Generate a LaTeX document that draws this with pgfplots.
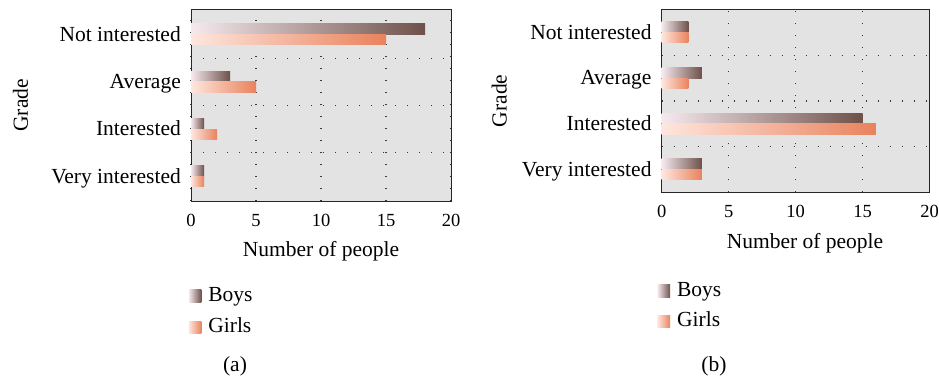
\documentclass[border=0pt]{standalone}
\usepackage{fontspec}
\setmainfont{Liberation Serif}
\usepackage{pgfplots}
\pgfplotsset{compat=1.18}
\definecolor{bg}{HTML}{E3E3E3}
\definecolor{boysL}{HTML}{F6E9EE}
\definecolor{boysD}{HTML}{6E5149}
\definecolor{girlsL}{HTML}{FEE6DE}
\definecolor{girlsD}{HTML}{E9825C}
\definecolor{gridc}{HTML}{3A3A3A}
\newcommand{\fs}{\fontsize{21.5}{25}\selectfont}
\pgfplotsset{
  chartstyle/.style={
    scale only axis,
    xbar,
    xmin=0, xmax=20,
    xtick={0,5,10,15,20},
    ytick={0,1,2,3},
    yticklabels={Very interested,Interested,Average,Not interested},
    major tick length=0pt,
    xmajorgrids=true,
    extra y ticks={0.5,1.5,2.5},
    extra y tick labels={},
    extra y tick style={grid=major, major tick length=0pt},
    grid style={gridc, line width=1.1pt, dash pattern=on 1.3pt off 10.7pt},
    axis background/.style={fill=bg},
    axis line style={line width=0.9pt, black!85},
    bar width=10.5pt,
    font=\fs,
    yticklabel style={font=\fs, anchor=base east, xshift=-10pt, yshift=-6.8pt, inner sep=0pt},
    /pgf/number format/assume math mode=true,
    xticklabel style={font=\fontsize{18.5}{22}\selectfont, anchor=base, yshift=-25pt, inner sep=0pt},
    legend image code/.code={\path[##1] (0pt,-6pt) rectangle (12.5pt,6.5pt);},
    legend style={draw=none, fill=none, inner sep=0pt, column sep=5pt,
      legend cell align=left, anchor=north west,
      font=\fs,
      nodes={inner sep=2pt, text height=14pt, text depth=4pt}},
    xlabel={Number of people},
    ylabel={Grade},
    xlabel style={anchor=base},
    ylabel style={anchor=base, rotate=0},
  },
  boys/.style={draw=none, left color=boysL, right color=boysD, bar shift=5.25pt},
  girls/.style={draw=none, left color=girlsL, right color=girlsD, bar shift=-5.25pt},
}
\begin{document}
\begin{tikzpicture}
\path[use as bounding box] (0pt,0pt) rectangle (939pt,-381pt);
% (a)
\begin{axis}[chartstyle,
  at={(191pt,-201pt)}, anchor=south west,
  width=260pt, height=191.3pt,
  ymin=-0.522, ymax=3.522,
  xlabel style={at={(axis description cs:0.5,-0.2875)}},
  ylabel style={at={(axis description cs:-0.627,0.5)}},
  legend style={at={(axis description cs:-0.009,-0.439)}, row sep=9.7pt},
]
% Boys
\addplot[boys] coordinates {(18,3)};
\addlegendentry{Boys}
% Girls
\addplot[girls] coordinates {(15,3)};
\addlegendentry{Girls}
\addplot[boys, forget plot] coordinates {(3,2)};
\addplot[boys, forget plot] coordinates {(1,1)};
\addplot[boys, forget plot] coordinates {(1,0)};
\addplot[girls, forget plot] coordinates {(5,2)};
\addplot[girls, forget plot] coordinates {(2,1)};
\addplot[girls, forget plot] coordinates {(1,0)};
\end{axis}
% (b)
\begin{axis}[chartstyle,
  at={(661.7pt,-192.3pt)}, anchor=south west,
  width=267.8pt, height=182.7pt,
  ymin=-0.5, ymax=3.5,
  xlabel style={at={(axis description cs:0.535,-0.308)}},
  ylabel style={at={(axis description cs:-0.579,0.5)}},
  legend style={at={(axis description cs:-0.016,-0.48)}, row sep=8.3pt},
]
% Boys
\addplot[boys] coordinates {(2,3)};
\addlegendentry{Boys}
% Girls
\addplot[girls] coordinates {(2,3)};
\addlegendentry{Girls}
\addplot[boys, forget plot] coordinates {(3,2)};
\addplot[boys, forget plot] coordinates {(15,1)};
\addplot[boys, forget plot] coordinates {(3,0)};
\addplot[girls, forget plot] coordinates {(2,2)};
\addplot[girls, forget plot] coordinates {(16,1)};
\addplot[girls, forget plot] coordinates {(3,0)};
\end{axis}
\node[anchor=base, font=\fs] at (235pt,-371pt) {(a)};
\node[anchor=base, font=\fs] at (714pt,-371pt) {(b)};
\end{tikzpicture}
\end{document}
